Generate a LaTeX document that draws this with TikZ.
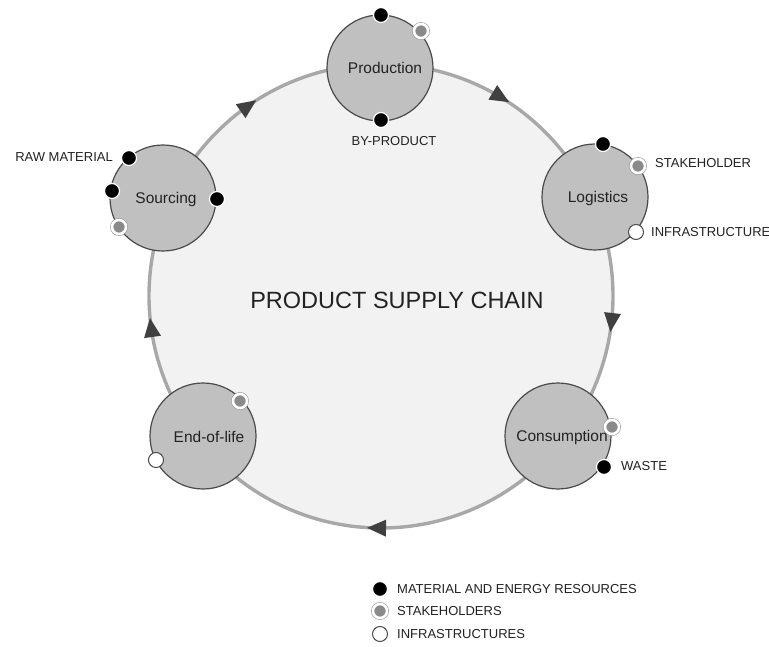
\documentclass[tikz,border=0pt]{standalone}
\usepackage{fontspec}
\setmainfont{Liberation Sans}
\definecolor{ringc}{HTML}{A8A8A8}
\definecolor{bigfill}{HTML}{F2F2F2}
\definecolor{stagefill}{HTML}{C0C0C0}
\definecolor{stageline}{HTML}{4A4A4A}
\definecolor{arrowc}{HTML}{404040}
\definecolor{txtc}{HTML}{222222}
\definecolor{dotgray}{HTML}{8A8A8A}
\definecolor{dotring}{HTML}{9A9A9A}
\begin{document}
\begin{tikzpicture}[x=1pt,y=1pt,
  ring/.style={draw=ringc, line width=3.4pt, fill=bigfill},
  stage/.style={circle, draw=stageline, line width=1.2pt, fill=stagefill, minimum size=106pt, inner sep=0pt},
  stagetxt/.style={text=txtc, font=\fontsize{15.5}{18}\selectfont, inner sep=0pt},
  small/.style={text=txtc, font=\fontsize{13}{15}\selectfont, inner sep=0pt},
  resdot/.style={circle, inner sep=0pt, minimum size=15pt, fill=black, draw=white, line width=1.2pt},
  stakedot/.style={circle, inner sep=0pt, minimum size=14pt, fill=dotgray, draw=white, line width=2.6pt,
                   preaction={draw=dotring, line width=3.8pt}},
  infradot/.style={circle, inner sep=0pt, minimum size=15pt, fill=white, draw=stageline, line width=1pt},
  ahead/.style={fill=arrowc}
]
\useasboundingbox (0,0) rectangle (769,-647);
\fill[white] (0,0) rectangle (769,-647);

% big ring
\coordinate (C) at (381,-296);
\draw[ring] (C) circle (232);

% arrowheads on ring (clockwise)
\fill[ahead, shift={(248,-106)}, rotate=35] (10,0) -- (-9,8.5) -- (-9,-8.5) -- cycle;
\fill[ahead, shift={(500.5,-97)}, rotate=-31] (10,0) -- (-9,8.5) -- (-9,-8.5) -- cycle;
\fill[ahead, shift={(611.5,-322)}, rotate=-96.5] (10,0) -- (-9,8.5) -- (-9,-8.5) -- cycle;
\fill[ahead, shift={(377,-528)}, rotate=-181] (10,0) -- (-9,8.5) -- (-9,-8.5) -- cycle;
\fill[ahead, shift={(151.3,-328)}, rotate=98] (10,0) -- (-9,8.5) -- (-9,-8.5) -- cycle;

% title
\node[text=txtc, font=\fontsize{23.5}{28}\selectfont, inner sep=0pt] (title) at (397,-300) {PRODUCT SUPPLY CHAIN};

% stages
\node[stage] (prod) at (380,-68) {};
\node[stage] (logi) at (595,-197) {};
\node[stage] (cons) at (558,-436) {};
\node[stage] (eol)  at (203,-436) {};
\node[stage] (sour) at (163,-198) {};

\node[stagetxt] (prodt) at (385,-68) {Production};
\node[stagetxt] (logit) at (598,-198) {Logistics};
\node[stagetxt] (const) at (562,-437) {Consumption};
\node[stagetxt] (eolt)  at (209,-437) {End-of-life};
\node[stagetxt] (sourt) at (166,-199) {Sourcing};

% dots: production
\node[resdot] (p1) at (381,-15) {};
\node[stakedot] (p2) at (421,-31) {};
\node[resdot] (p3) at (381,-120) {};
% logistics
\node[resdot] (l1) at (603,-144) {};
\node[stakedot] (l2) at (638,-166) {};
\node[infradot] (l3) at (636,-232) {};
% sourcing
\node[resdot] (s1) at (129,-158) {};
\node[resdot] (s2) at (112,-191) {};
\node[stakedot] (s3) at (119,-227) {};
\node[resdot] (s4) at (217,-199) {};
% consumption
\node[stakedot] (c1) at (612,-427) {};
\node[resdot] (c2) at (604,-467) {};
% end-of-life
\node[stakedot] (e1) at (240,-401) {};
\node[infradot] (e2) at (156,-460) {};

% labels
\node[small] (byp) at (394,-141) {BY-PRODUCT};
\node[small, anchor=west] (stk) at (655,-163) {STAKEHOLDER};
\node[small, anchor=west] (inf) at (651,-232) {INFRASTRUCTURE};
\node[small, anchor=east] (raw) at (113,-157) {RAW MATERIAL};
\node[small, anchor=west] (wst) at (621,-466) {WASTE};

% legend
\node[resdot] (lg1) at (380,-589) {};
\node[stakedot] (lg2) at (380,-611) {};
\node[infradot] (lg3) at (380,-634) {};
\node[small, anchor=west] (lt1) at (397,-589) {MATERIAL AND ENERGY RESOURCES};
\node[small, anchor=west] (lt2) at (397,-611) {STAKEHOLDERS};
\node[small, anchor=west] (lt3) at (397,-634) {INFRASTRUCTURES};
\end{tikzpicture}
\end{document}
